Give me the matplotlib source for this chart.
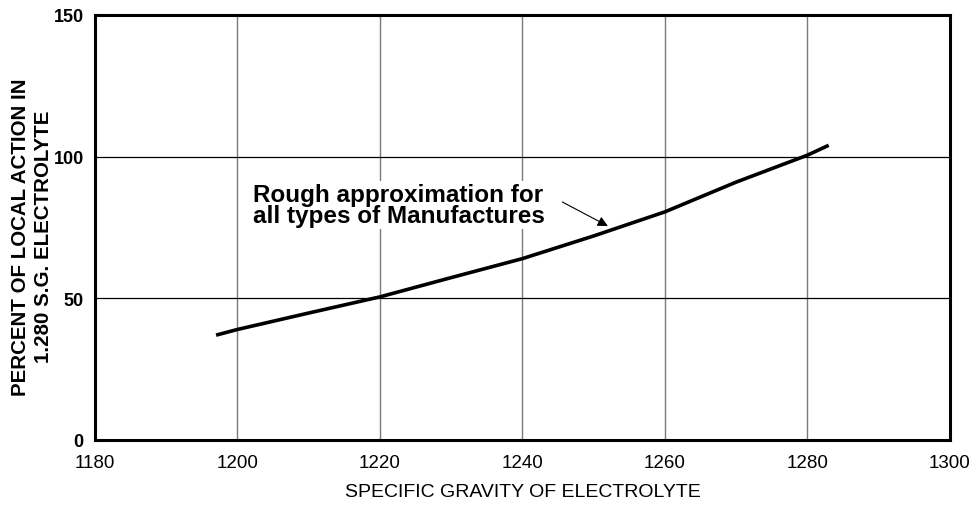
import matplotlib
matplotlib.use("Agg")
import matplotlib.pyplot as plt
import numpy as np

# Values
gravity = [1197, 1200, 1210, 1220, 1230, 1240, 1250, 1260, 1270, 1280, 1283]
local_action = [37.0, 39.0, 44.8, 50.5, 57.3, 64.0, 72.0, 80.5, 91.0, 100.5, 104.0]

x_ticks = [1180, 1200, 1220, 1240, 1260, 1280, 1300]
y_ticks = [0, 50, 100, 150]

note = 'Rough approximation for\nall types of Manufactures'

plt.rcParams['font.family'] = ['Liberation Sans', 'DejaVu Sans']

fig = plt.figure(figsize=(9.77, 5.06), dpi=100)
ax = fig.add_axes([0.0972, 0.1285, 0.875, 0.840])

ax.set_xlim(1180, 1300)
ax.set_ylim(0, 150)
ax.set_xticks(x_ticks)
ax.set_yticks(y_ticks)
ax.tick_params(axis='x', length=0, labelsize=13.5, pad=10)
ax.tick_params(axis='y', length=0, labelsize=13, pad=8)
for lab in ax.get_yticklabels():
    lab.set_fontweight('bold')

# grid: vertical lines grey, horizontal lines black
for xv in x_ticks[1:-1]:
    ax.axvline(xv, color='#7a7a7a', lw=1.0, zorder=1)
for yv in y_ticks[1:-1]:
    ax.axhline(yv, color='black', lw=0.9, zorder=1)

for sp in ax.spines.values():
    sp.set_linewidth(2.2)

ax.plot(gravity, local_action, color='black', lw=2.6, solid_capstyle='butt', zorder=3)

ax.text(1202.2, 83.0, note, fontsize=17.5, fontweight='bold', va='center', ha='left',
        linespacing=0.92, bbox=dict(facecolor='white', edgecolor='none', pad=1), zorder=4)
ax.annotate('', xy=(1252.0, 75.5), xytext=(1245.6, 84.0),
            arrowprops=dict(arrowstyle='-|>', color='black', lw=0.8,
                            mutation_scale=15, shrinkA=0, shrinkB=0),
            zorder=4)

ax.set_xlabel('SPECIFIC GRAVITY OF ELECTROLYTE', fontsize=14, labelpad=9)
fig.text(32 / 977, 1 - 237 / 506, 'PERCENT OF LOCAL ACTION IN\n1.280 S.G. ELECTROLYTE',
         rotation=90, ha='center', va='center', multialignment='center',
         fontsize=14.8, fontweight='bold', linespacing=1.3)

fig.savefig('out.png', dpi=100)
